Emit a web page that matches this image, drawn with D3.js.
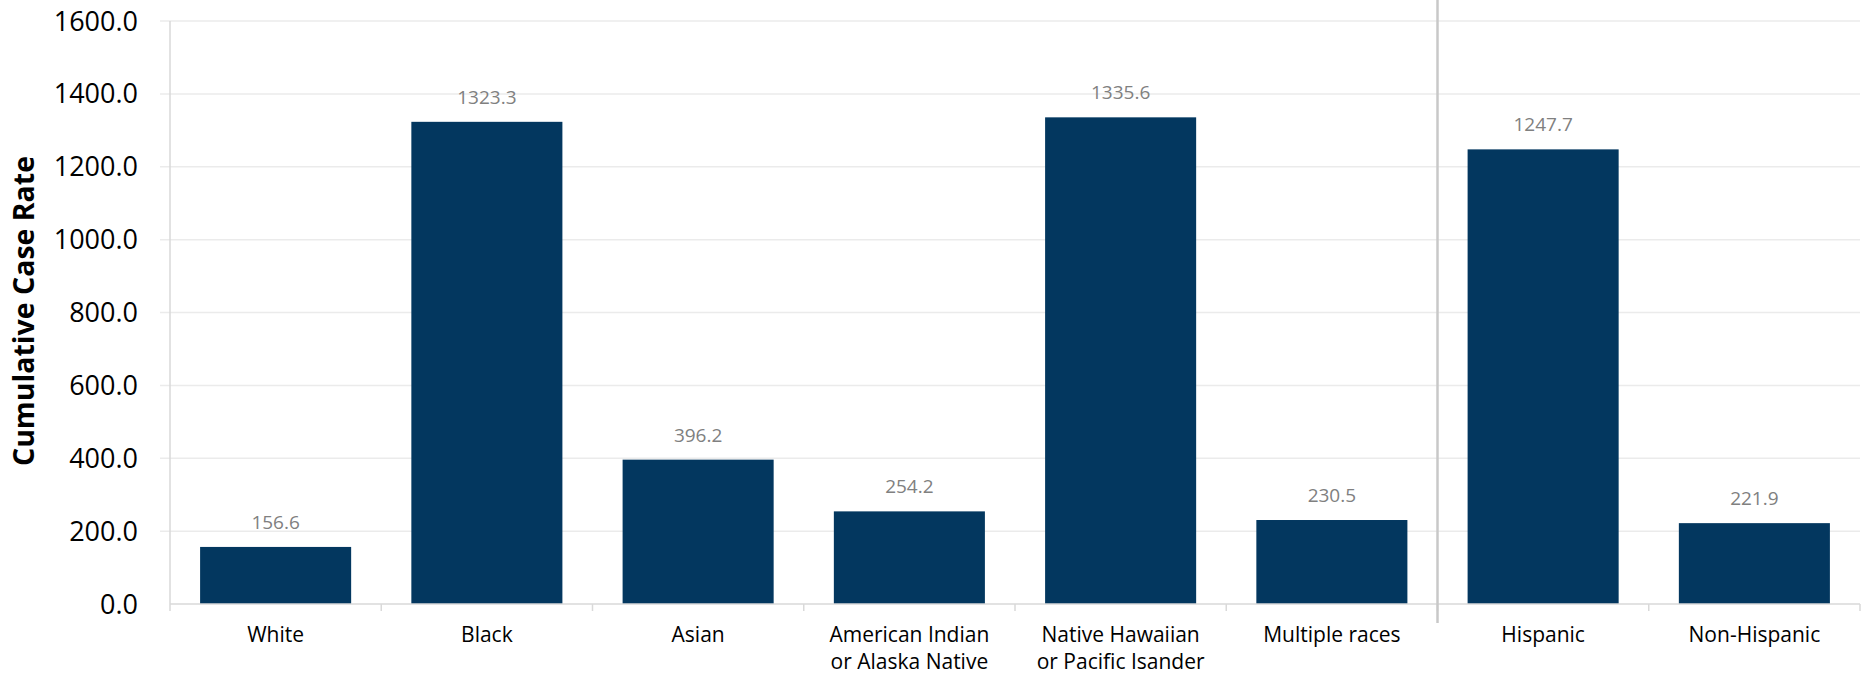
<!DOCTYPE html>
<html>
<head>
<meta charset="utf-8">
<script src="https://cdn.jsdelivr.net/npm/d3@7"></script>
<style>
  html, body { margin: 0; padding: 0; background: #fff; }
  svg { display: block; }
  text { font-family: "Open Sans", sans-serif; }
</style>
</head>
<body>
<svg id="chart" width="1872" height="674"></svg>
<script>
const categories = [
  ["White"],
  ["Black"],
  ["Asian"],
  ["American Indian", "or Alaska Native"],
  ["Native Hawaiian", "or Pacific Isander"],
  ["Multiple races"],
  ["Hispanic"],
  ["Non-Hispanic"]
];
const values = [156.6, 1323.3, 396.2, 254.2, 1335.6, 230.5, 1247.7, 221.9];
const yTicks = [0, 200, 400, 600, 800, 1000, 1200, 1400, 1600];
const yTitle = "Cumulative Case Rate";
const separatorAfter = 5; // index of last race category

(function () {
const svg = d3.select("#chart");
const mLeft = 170, mRight = 1860, mTop = 21, mBottom = 604;

const keys = categories.map((d, i) => i);
const x = d3.scaleBand().domain(keys).range([mLeft, mRight])
  .paddingInner(0.285).paddingOuter(0.1425);
const y = d3.scaleLinear().domain([0, 1600]).range([mBottom, mTop]);

// gridlines
svg.append("g").selectAll("line").data(yTicks.filter(t => t > 0)).join("line")
  .attr("x1", mLeft - 10).attr("x2", mRight)
  .attr("y1", d => y(d)).attr("y2", d => y(d))
  .attr("stroke", "#ebebeb").attr("stroke-width", 1.5);

// y axis line
svg.append("line").attr("x1", mLeft).attr("x2", mLeft)
  .attr("y1", mTop).attr("y2", mBottom)
  .attr("stroke", "#d9d9d9").attr("stroke-width", 1.5);

// y tick labels
svg.append("g").selectAll("text").data(yTicks).join("text")
  .attr("x", 138).attr("y", d => y(d) + 9.6)
  .attr("text-anchor", "end")
  .attr("font-size", 27).attr("fill", "#000")
  .text(d => d3.format(".1f")(d));

// y title
svg.append("text")
  .attr("transform", `translate(34,311) rotate(-90)`)
  .attr("text-anchor", "middle")
  .attr("font-size", 28.5).attr("font-weight", "bold").attr("fill", "#000")
  .text(yTitle);

// bars
svg.append("g").selectAll("rect").data(values).join("rect")
  .attr("x", (d, i) => x(i)).attr("width", x.bandwidth())
  .attr("y", d => y(d)).attr("height", d => y(0) - y(d))
  .attr("fill", "#03375f");

// data labels
svg.append("g").selectAll("text").data(values).join("text")
  .attr("x", (d, i) => x(i) + x.bandwidth() / 2)
  .attr("y", d => y(d) - 18)
  .attr("text-anchor", "middle")
  .attr("font-size", 19).attr("fill", "#808080")
  .text(d => d3.format(".1f")(d));

// x axis line
svg.append("line").attr("x1", mLeft).attr("x2", mRight)
  .attr("y1", mBottom).attr("y2", mBottom)
  .attr("stroke", "#d9d9d9").attr("stroke-width", 1.5);

// x ticks at band boundaries
const step = x.step();
const boundaries = d3.range(categories.length + 1).map(i => mLeft + i * step);
svg.append("g").selectAll("line").data(boundaries).join("line")
  .attr("x1", d => d).attr("x2", d => d)
  .attr("y1", mBottom).attr("y2", mBottom + 7)
  .attr("stroke", "#d9d9d9").attr("stroke-width", 1.5);

// category labels
const cat = svg.append("g").selectAll("text").data(categories).join("text")
  .attr("text-anchor", "middle")
  .attr("font-size", 21).attr("fill", "#000")
  .attr("transform", (d, i) => `translate(${x(i) + x.bandwidth() / 2},642)`);
cat.selectAll("tspan").data(d => d).join("tspan")
  .attr("x", 0).attr("y", (d, j) => j * 27)
  .text(d => d);

// separator between race and ethnicity
const sepX = mLeft + (separatorAfter + 1) * step;
svg.append("line").attr("x1", sepX).attr("x2", sepX)
  .attr("y1", 0).attr("y2", 623)
  .attr("stroke", "#c8c8c8").attr("stroke-width", 2.5);
})();
</script>
</body>
</html>
